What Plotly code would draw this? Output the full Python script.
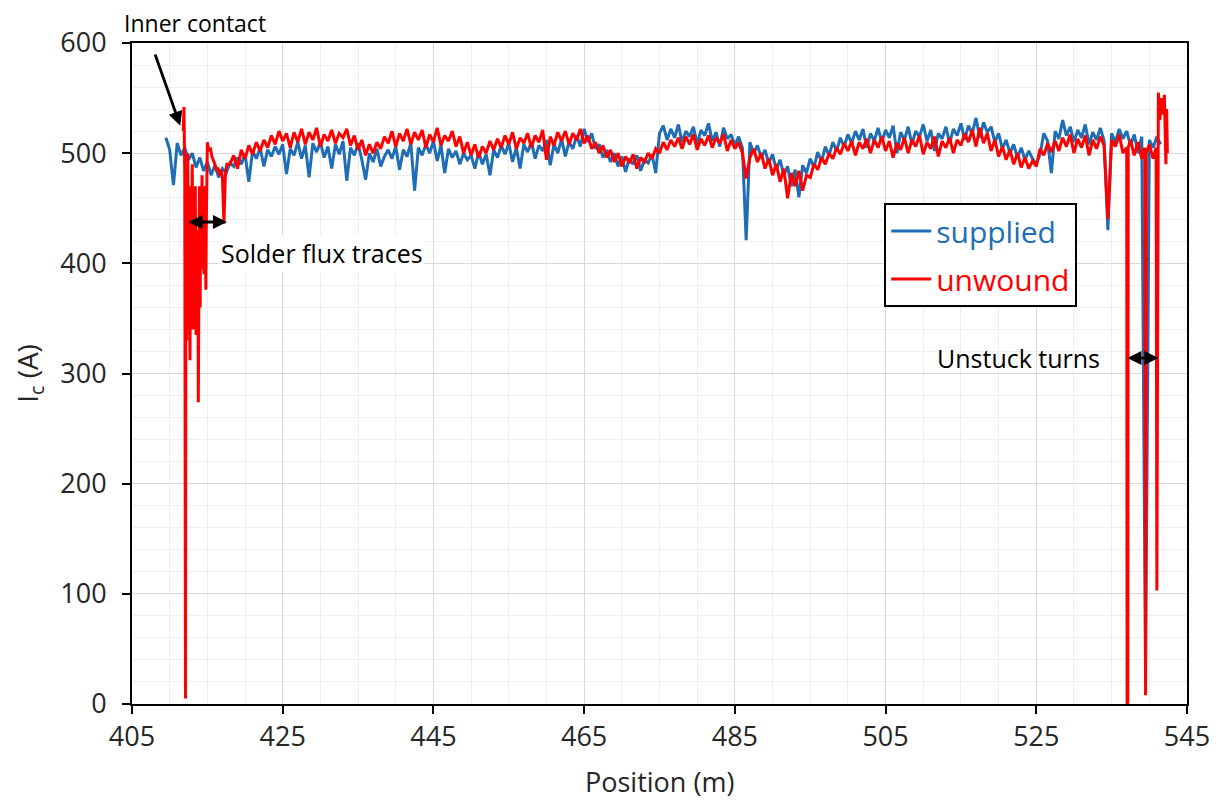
import plotly.graph_objects as go

# ---------------- data ----------------
SAMPLE_STEP_M = 0.5

# supplied tape, sampled every 0.5 m starting at 409.5 m
supplied_start = 409.5
supplied_ic = [
    514, 503, 471, 509, 498, 505, 494, 500, 487, 496,
    484, 492, 480, 489, 478, 486, 482, 491, 488, 496,
    490, 499, 474, 502, 495, 505, 488, 503, 497, 506,
    499, 508, 481, 504, 498, 510, 495, 507, 478, 509,
    501, 510, 496, 506, 486, 508, 499, 511, 475, 505,
    498, 509, 494, 476, 500, 492, 504, 488, 497, 503,
    495, 506, 485, 503, 497, 509, 466, 505, 498, 508,
    500, 511, 493, 507, 482, 504, 496, 502, 490, 500,
    494, 498, 486, 501, 490, 499, 480, 503, 496, 507,
    499, 509, 492, 505, 486, 508, 501, 510, 495, 507,
    502, 512, 489, 508, 500, 513, 497, 510, 504, 516,
    506, 522, 510, 518, 504, 508, 496, 503, 492, 500,
    488, 497, 483, 495, 490, 498, 484, 494, 491, 499,
    482, 518, 525, 512, 522, 514, 526, 510, 520, 515,
    524, 508, 521, 516, 527, 511, 519, 506, 523, 513,
    517, 507, 515, 505, 421, 510, 500, 507, 496, 503,
    491, 499, 485, 494, 480, 488, 470, 485, 460, 489,
    482, 495, 487, 501, 492, 506, 498, 510, 502, 514,
    506, 517, 509, 520, 512, 522, 505, 518, 511, 523,
    510, 521, 514, 525, 500, 519, 512, 524, 508, 520,
    515, 526, 511, 521, 502, 518, 513, 524, 509, 522,
    516, 527, 512, 525, 518, 532, 514, 528, 519, 524,
    510, 518, 504, 512, 500, 508, 496, 505, 494, 502,
    495, 490, 499, 518, 511, 482, 520, 513, 530, 516,
    524, 510, 521, 514, 526, 508, 519, 512, 523, 511,
    430, 518, 510, 522, 513, 520, 507, 517, 500, 515,
    25, 512, 505, 515, 508,
]

# unwound tape: inner region with solder flux traces (irregular positions)
unwound_head_pos = [
    411.8, 411.9, 412.0, 412.1, 412.15, 412.2, 412.25, 412.3, 412.35, 412.4,
    412.45, 412.5, 412.55, 412.6, 412.65, 412.7, 412.75, 412.8, 412.85, 412.9,
    412.95, 413.0, 413.05, 413.1, 413.15, 413.2, 413.25, 413.3, 413.35, 413.4,
    413.45, 413.5, 413.55, 413.6, 413.65, 413.7, 413.75, 413.8, 413.85, 413.9,
    413.95, 414.0, 414.05, 414.1, 414.15, 414.2, 414.25, 414.3, 414.35, 414.4,
    414.45, 414.5, 414.55, 414.6, 414.65, 414.7, 414.75, 414.8, 414.85, 414.9,
    415.0, 415.2, 415.4, 415.6, 415.8, 416.0, 416.2, 416.4, 416.6, 416.8,
    417.0, 417.2, 417.4, 417.6,
]
unwound_head_ic = [
    520, 542, 480, 5, 430, 470, 330, 395, 455, 500,
    420, 360, 440, 470, 350, 312, 430, 450, 370, 380,
    460, 490, 400, 340, 420, 455, 370, 390, 445, 470,
    380, 335, 410, 430, 360, 385, 420, 274, 350, 440,
    470, 400, 360, 470, 430, 420, 460, 480, 400, 395,
    440, 455, 390, 410, 450, 470, 420, 376, 430, 460,
    510, 502, 505, 497, 494, 490, 484, 487, 480, 485,
    478, 436, 482, 490,
]

# unwound tape, regular 0.5 m sampling from 418.0 m
unwound_start = 418.0
unwound_ic = [
    490, 498, 486, 503, 495, 507, 499, 510, 502, 512,
    505, 516, 508, 520, 511, 518, 505, 519, 510, 522,
    508, 519, 512, 523, 506, 517, 511, 521, 509, 518,
    514, 522, 507, 516, 503, 512, 498, 508, 500, 510,
    504, 515, 509, 520, 506, 518, 511, 522, 508, 519,
    512, 521, 505, 517, 510, 523, 507, 516, 511, 520,
    506, 515, 500, 510, 498, 508, 496, 506, 500, 511,
    503, 513, 505, 516, 508, 519, 504, 514, 509, 518,
    505, 516, 510, 521, 494, 515, 507, 519, 511, 520,
    508, 518, 512, 522, 509, 516, 504, 510, 500, 507,
    496, 503, 492, 500, 488, 497, 491, 499, 486, 496,
    492, 500, 495, 504, 500, 510, 503, 512, 506, 514,
    504, 515, 508, 517, 503, 513, 507, 516, 505, 514,
    509, 517, 502, 512, 504, 510, 500, 477, 496, 504,
    492, 500, 486, 495, 480, 490, 474, 486, 459, 482,
    470, 484, 466, 480, 478, 490, 485, 496, 490, 500,
    495, 505, 499, 509, 502, 511, 498, 510, 504, 513,
    500, 512, 505, 515, 502, 511, 496, 509, 503, 514,
    500, 512, 506, 516, 499, 510, 504, 515, 497, 511,
    505, 514, 500, 512, 507, 518, 510, 521, 506, 523,
    509, 518, 502, 512, 497, 506, 494, 503, 490, 500,
    487, 496, 486, 493, 488, 504, 498, 509, 501, 511,
    502, 514, 506, 517, 500, 513, 505, 516, 498, 512,
    504, 515, 507, 440, 512, 506, 517, 500,
]

# unwound tape: outer end with unstuck turns (irregular positions)
unwound_tail_pos = [
    537.0, 537.05, 537.15, 537.2, 537.5, 538.0, 538.5, 539.0, 539.4, 539.5,
    539.6, 540.0, 540.5, 540.9, 541.0, 541.1, 541.2, 541.4, 541.6, 541.8,
    542.0, 542.2, 542.3, 542.4,
]
unwound_tail_ic = [
    505, 0, 2, 505, 512, 498, 510, 495, 505, 8,
    500, 508, 495, 505, 103, 520, 555, 530, 550, 535,
    553, 490, 540, 500,
]

# ---------------- assemble ----------------
supplied_pos = [round(supplied_start + SAMPLE_STEP_M * i, 2) for i in range(len(supplied_ic))]
unwound_mid_pos = [round(unwound_start + SAMPLE_STEP_M * i, 2) for i in range(len(unwound_ic))]
unwound_pos = unwound_head_pos + unwound_mid_pos + unwound_tail_pos
unwound_all = unwound_head_ic + unwound_ic + unwound_tail_ic

BLUE = "#1f6db5"
RED = "#ff0000"
FONT = "Open Sans"
TXT = "#262626"

fig = go.Figure()
fig.add_trace(go.Scatter(
    x=supplied_pos, y=supplied_ic, mode="lines",
    line=dict(color=BLUE, width=3),
    name='<span style="color:%s">supplied</span>' % BLUE,
    legendgroup="a",
))
fig.add_trace(go.Scatter(
    x=unwound_pos, y=unwound_all, mode="lines",
    line=dict(color=RED, width=3),
    name='<span style="color:%s">unwound</span>' % RED,
    legendgroup="b",
))

axis_common = dict(
    showline=True, linecolor="black", linewidth=2, mirror=True,
    ticks="outside", ticklen=8, tickwidth=2, tickcolor="black",
    showgrid=True, gridcolor="#d9d9d9", gridwidth=1,
    zeroline=False, automargin=False,
    tickfont=dict(family=FONT, size=27, color=TXT),
)

fig.update_xaxes(
    range=[405, 545], tick0=405, dtick=20,
    minor=dict(dtick=5, showgrid=True, gridcolor="#efefef", ticks=""),
    **axis_common,
)
fig.update_yaxes(
    range=[0, 600], tick0=0, dtick=100, ticklabelstandoff=10,
    minor=dict(dtick=20, showgrid=True, gridcolor="#efefef", ticks=""),
    title=dict(text="I<sub>c</sub> (A)", font=dict(family=FONT, size=28, color=TXT), standoff=28),
    **axis_common,
)

annotations = [
    dict(x=0.5, y=-0.117, xref="paper", yref="paper", text="Position (m)", showarrow=False,
         xanchor="center", yanchor="middle", font=dict(family=FONT, size=27, color=TXT)),
    dict(x=-0.0095, y=1.03, xref="paper", yref="paper", text="Inner contact", showarrow=False,
         xanchor="left", yanchor="middle", font=dict(family=FONT, size=23, color="black")),
    dict(x=411.4, y=525, ax=408.0, ay=591, xref="x", yref="y", axref="x", ayref="y",
         text="", showarrow=True, arrowhead=2, arrowsize=1, arrowwidth=2.8, arrowcolor="black"),
    dict(x=417.6, y=437.5, ax=412.3, ay=437.5, xref="x", yref="y", axref="x", ayref="y",
         text="", showarrow=True, arrowhead=2, startarrowhead=2, arrowside="end+start",
         arrowsize=1, startarrowsize=1, arrowwidth=2.8, arrowcolor="black"),
    dict(x=416.6, y=409, xref="x", yref="y", text="Solder flux traces", showarrow=False,
         xanchor="left", yanchor="middle", font=dict(family=FONT, size=25, color="black"),
         bgcolor="white"),
    dict(x=533.7, y=314, xref="x", yref="y", text="Unstuck turns", showarrow=False,
         xanchor="right", yanchor="middle", font=dict(family=FONT, size=25, color="black")),
    dict(x=541.2, y=314, ax=536.9, ay=314, xref="x", yref="y", axref="x", ayref="y",
         text="", showarrow=True, arrowhead=2, startarrowhead=2, arrowside="end+start",
         arrowsize=1, startarrowsize=1, arrowwidth=2.8, arrowcolor="black"),
]

# page body adds an 8 px offset, so the figure is 16 px smaller than the window
fig.update_layout(
    width=1204, height=796,
    margin=dict(l=124, r=25, t=35, b=100, autoexpand=False),
    paper_bgcolor="white", plot_bgcolor="white",
    font=dict(family=FONT, color=TXT),
    showlegend=True,
    legend=dict(
        x=0.713, y=0.758, xanchor="left", yanchor="top",
        bgcolor="white", bordercolor="black", borderwidth=2,
        font=dict(family=FONT, size=30),
        tracegroupgap=6, traceorder="grouped",
        itemwidth=40,
    ),
    annotations=annotations,
)

fig.write_html("out.html")
